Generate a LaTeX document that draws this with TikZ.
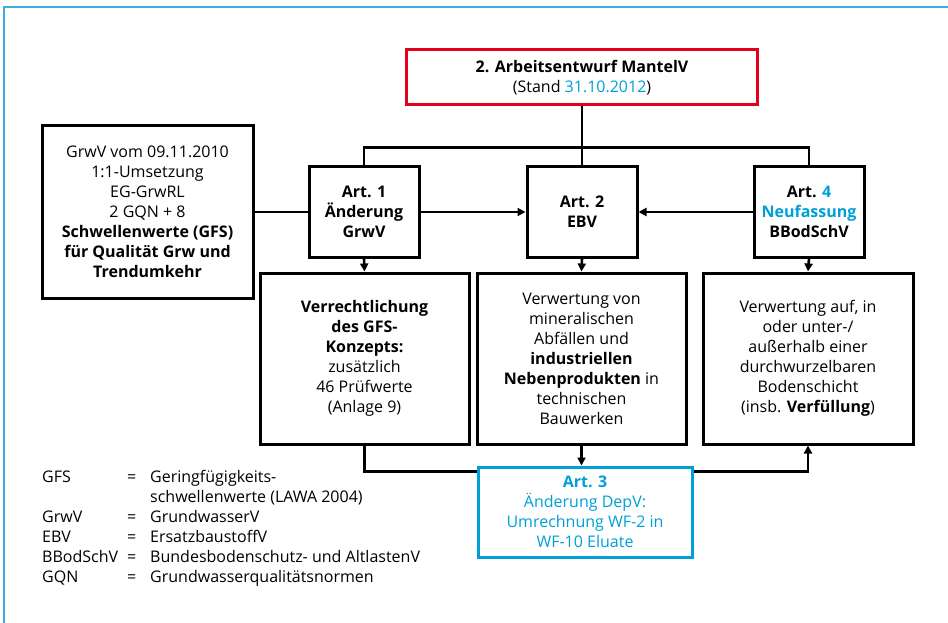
\documentclass[tikz,border=0pt]{standalone}
\usepackage{fontspec}
\setmainfont{Open Sans}
\usetikzlibrary{arrows.meta}
\definecolor{cyanx}{RGB}{0,160,214}
\definecolor{redx}{RGB}{226,0,26}
\definecolor{framec}{RGB}{60,175,225}
\tikzset{
  box/.style={draw=black, line width=3pt, rectangle, inner sep=0pt, align=center,
    font=\fontsize{16}{20}\selectfont},
  conn/.style={line width=2.6pt, line join=miter},
  arr/.style={conn, -{Triangle[length=8pt,width=8pt]}},
}
\begin{document}
\begin{tikzpicture}[x=1pt,y=-1pt]
\useasboundingbox (0,0) rectangle (948,623);
\fill[white] (0,0) rectangle (948,623);
\draw[framec, line width=1.6pt] (4,623) -- (4,7) -- (948,7);

\node[box, draw=redx, minimum width=351pt, minimum height=55pt] (top) at (582,77.5)
  {\textbf{2. Arbeitsentwurf MantelV}\\(Stand \textcolor{cyanx}{31.10.2012})};

\node[box, minimum width=211pt, minimum height=173pt] (grwv) at (147.5,212)
  {GrwV vom 09.11.2010\\1:1-Umsetzung\\EG-GrwRL\\2 GQN + 8\\\textbf{Schwellenwerte (GFS)}\\\textbf{für Qualität Grw und}\\\textbf{Trendumkehr}};

\node[box, minimum width=110pt, minimum height=90pt] (art1) at (364,212)
  {\textbf{Art. 1}\\\textbf{Änderung}\\\textbf{GrwV}};
\node[box, minimum width=110pt, minimum height=90pt] (art2) at (582,212)
  {\textbf{Art. 2}\\\textbf{EBV}};
\node[box, minimum width=110pt, minimum height=90pt] (art4) at (809,212)
  {\textbf{Art. \textcolor{cyanx}{4}}\\\textbf{\textcolor{cyanx}{Neufassung}}\\\textbf{BBodSchV}};

\node[box, minimum width=209pt, minimum height=171pt] (bl) at (364.5,358.5)
  {\textbf{Verrechtlichung}\\\textbf{des GFS-}\\\textbf{Konzepts:}\\zusätzlich\\46 Prüfwerte\\(Anlage 9)};
\node[box, minimum width=209pt, minimum height=171pt] (bm) at (581.5,358.5)
  {Verwertung von\\mineralischen\\Abfällen und\\\textbf{industriellen}\\\textbf{Nebenprodukten} in\\technischen\\Bauwerken};
\node[box, minimum width=210pt, minimum height=171pt] (br) at (808,358.5)
  {Verwertung auf, in\\oder unter-/\\außerhalb einer\\durchwurzelbaren\\Bodenschicht\\(insb. \textbf{Verfüllung})};

\node[box, draw=cyanx, text=cyanx, minimum width=214pt, minimum height=90pt] (art3) at (585,512)
  {\textbf{Art. 3}\\Änderung DepV:\\Umrechnung WF-2 in\\WF-10 Eluate};

% connectors top
\draw[conn] (top.south) -- (art2.north);
\draw[conn] (art1.north) -- ++(0,-18) -| (art4.north);
\draw[conn] (grwv.east) -- (art1.west);
\draw[arr] (art1.east) -- (art2.west);
\draw[arr] (art4.west) -- (art2.east);
\draw[arr] (art1.south) -- (bl.north);
\draw[arr] (art2.south) -- (bm.north);
\draw[arr] (art4.south) -- (br.north);
% connectors bottom
\draw[conn] (bl.south) |- ([yshift=-6pt]art3.north west);
\draw[arr] (bm.south) -- (bm.south |- art3.north);
\draw[arr] ([yshift=-6pt]art3.north east) -| (br.south);

% legend
\node[anchor=north west, inner sep=0pt, align=left, font=\fontsize{16}{20}\selectfont] (legend) at (42,470)
  {\makebox[85pt][l]{GFS}\makebox[23pt][l]{=}Geringfügigkeits-\\
   \makebox[85pt][l]{}\makebox[23pt][l]{}schwellenwerte (LAWA 2004)\\
   \makebox[85pt][l]{GrwV}\makebox[23pt][l]{=}GrundwasserV\\
   \makebox[85pt][l]{EBV}\makebox[23pt][l]{=}ErsatzbaustoffV\\
   \makebox[85pt][l]{BBodSchV}\makebox[23pt][l]{=}Bundesbodenschutz- und AltlastenV\\
   \makebox[85pt][l]{GQN}\makebox[23pt][l]{=}Grundwasserqualitätsnormen};
\end{tikzpicture}
\end{document}
